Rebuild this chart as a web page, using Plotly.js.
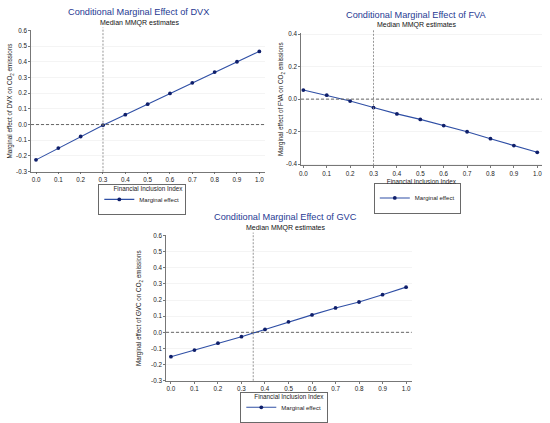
<!DOCTYPE html>
<html>
<head>
<meta charset="utf-8">
<script src="https://cdn.plot.ly/plotly-3.0.1.min.js"></script>
<style>html,body{margin:0;padding:0;background:#fff;}#chart{width:550px;height:423px;}</style>
</head>
<body>
<div id="chart"></div>
<script>
// Data
const finIncl = [0.0, 0.1, 0.2, 0.3, 0.4, 0.5, 0.6, 0.7, 0.8, 0.9, 1.0];
const dvxEffect = [-0.225, -0.150, -0.076, -0.004, 0.063, 0.130, 0.198, 0.266, 0.334, 0.400, 0.466];
const fvaEffect = [0.056, 0.024, -0.012, -0.052, -0.091, -0.125, -0.163, -0.201, -0.244, -0.286, -0.328];
const gvcEffect = [-0.151, -0.110, -0.067, -0.027, 0.018, 0.065, 0.108, 0.151, 0.188, 0.233, 0.280];
const dvxThreshold = 0.30;
const fvaThreshold = 0.30;
const gvcThreshold = 0.35;
const titles = ["Conditional Marginal Effect of DVX", "Conditional Marginal Effect of FVA", "Conditional Marginal Effect of GVC"];
const subtitle = "Median MMQR estimates";
const yTitles = ["Marginal effect of DVX on CO<sub>2</sub> emissions", "Marginal effect of FVA on CO<sub>2</sub> emissions", "Marginal effect of GVC on CO<sub>2</sub> emissions"];
const xTitle = "Financial Inclusion Index";
const seriesName = "Marginal effect";
const xTicks = [0.0, 0.1, 0.2, 0.3, 0.4, 0.5, 0.6, 0.7, 0.8, 0.9, 1.0];
const yTicksA = [-0.3, -0.2, -0.1, 0.0, 0.1, 0.2, 0.3, 0.4, 0.5, 0.6];
const yTicksB = [-0.4, -0.2, 0.0, 0.2, 0.4];

const FONT = "Liberation Sans, Arial, sans-serif";
const W = 550, H = 423;
const px = v => v / W;
const py = v => 1 - v / H;

const lineColor = '#2f4fa5';
const markerColor = '#0f1f6b';

function trace(y, xa, ya, leg) {
  return {
    x: finIncl, y: y, xaxis: xa, yaxis: ya, type: 'scatter', mode: 'lines+markers',
    name: seriesName, legend: leg, showlegend: true,
    line: {color: lineColor, width: 1.1},
    marker: {color: markerColor, size: 3.8, symbol: 'circle'}
  };
}

const data = [
  trace(dvxEffect, 'x', 'y', 'legend'),
  trace(fvaEffect, 'x2', 'y2', 'legend2'),
  trace(gvcEffect, 'x3', 'y3', 'legend3')
];

function xAxis(domain, range, anchor, standoff) {
  return {
    domain: domain, range: range, anchor: anchor,
    tickvals: xTicks, ticktext: xTicks.map(v => v.toFixed(1)),
    ticks: 'outside', ticklen: 2, tickcolor: '#555', tickwidth: 0.8,
    showline: true, linecolor: '#555', linewidth: 0.8,
    showgrid: false, zeroline: false,
    tickfont: {family: FONT, size: 6.3, color: '#222'},
    title: {text: xTitle, font: {family: FONT, size: 6.3, color: '#222'}, standoff: standoff},
    automargin: false, fixedrange: true
  };
}
function yAxis(domain, range, anchor, ticks, title, standoff) {
  return {
    domain: domain, range: range, anchor: anchor,
    tickvals: ticks, ticktext: ticks.map(v => v.toFixed(1)),
    ticks: 'outside', ticklen: 2, tickcolor: '#555', tickwidth: 0.8,
    showline: true, linecolor: '#555', linewidth: 0.8,
    showgrid: true, gridcolor: '#ececec', gridwidth: 0.6, zeroline: false,
    tickfont: {family: FONT, size: 6.3, color: '#222'},
    title: {text: title, font: {family: FONT, size: 6.3, color: '#222'}, standoff: standoff},
    automargin: false, fixedrange: true
  };
}

function legendAt(cx, cy) {
  return {
    x: px(cx), y: py(cy), xanchor: 'center', yanchor: 'middle',
    orientation: 'h', bordercolor: '#444', borderwidth: 0.8, bgcolor: '#fff',
    font: {family: FONT, size: 6, color: '#222'}, itemwidth: 30
  };
}

function vline(xref, yref, xv) {
  return {type: 'line', xref: xref, yref: yref + ' domain', x0: xv, x1: xv, y0: 0, y1: 1.02,
          line: {color: '#8a8a8a', width: 0.9, dash: '2px,1.5px'}};
}
function hline(xref, yref) {
  return {type: 'line', xref: xref + ' domain', yref: yref, x0: 0, x1: 1, y0: 0, y1: 0,
          line: {color: '#555', width: 0.9, dash: '3px,2px'}};
}

function titleAnn(text, cx, cy, size, color) {
  return {text: text, xref: 'paper', yref: 'paper', x: px(cx), y: py(cy),
          xanchor: 'center', yanchor: 'middle', showarrow: false,
          font: {family: FONT, size: size, color: color}};
}

const layout = {
  width: W, height: H,
  margin: {l: 0, r: 0, t: 0, b: 0},
  paper_bgcolor: '#fff', plot_bgcolor: '#fff',
  font: {family: FONT, size: 6, color: '#222'},
  xaxis: xAxis([px(31), px(265)], [-0.0224, 1.0255], 'y', 4),
  yaxis: yAxis([py(173.7), py(30.7)], [-0.3, 0.6], 'x', yTicksA, yTitles[0], 2),
  xaxis2: xAxis([px(301), px(541.7)], [-0.01, 1.019], 'y2', 3.5),
  yaxis2: yAxis([py(167.3), py(33.3)], [-0.408, 0.408], 'x2', yTicksB, yTitles[1], 1),
  xaxis3: xAxis([px(166), px(411.7)], [-0.021, 1.024], 'y3', 2.5),
  yaxis3: yAxis([py(385.3), py(238.3)], [-0.3, 0.6], 'x3', yTicksA, yTitles[2], 8),
  legend: legendAt(142, 202),
  legend2: legendAt(417.5, 200.5),
  legend3: legendAt(284, 412.7),
  shapes: [
    vline('x', 'y', dvxThreshold), hline('x', 'y'),
    vline('x2', 'y2', fvaThreshold), hline('x2', 'y2'),
    vline('x3', 'y3', gvcThreshold), hline('x3', 'y3')
  ],
  annotations: [
    titleAnn(titles[0], 138, 12.3, 9.2, '#1f3a93'),
    titleAnn(subtitle, 140, 23.3, 7, '#111'),
    titleAnn(titles[1], 415.7, 15, 9.2, '#1f3a93'),
    titleAnn(subtitle, 416.7, 25.7, 7, '#111'),
    titleAnn(titles[2], 285, 219.3, 9.2, '#1f3a93'),
    titleAnn(subtitle, 285.2, 231, 7, '#111')
  ]
};

Plotly.newPlot('chart', data, layout, {displayModeBar: false, staticPlot: true});
</script>
</body>
</html>
